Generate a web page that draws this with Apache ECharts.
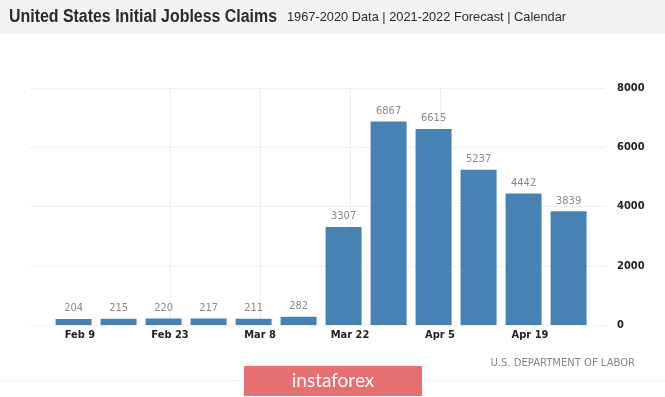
<!DOCTYPE html>
<html>
<head>
<meta charset="utf-8">
<script src="https://cdn.jsdelivr.net/npm/echarts@6/dist/echarts.min.js"></script>
<style>
  html, body { margin: 0; padding: 0; background: #fff; }
  #chart { width: 665px; height: 397px; }
</style>
</head>
<body>
<div id="chart"></div>
<script>
// weekly initial claims (thousands), week ending dates
const weekDates = ['2020-02-08', '2020-02-15', '2020-02-22', '2020-02-29', '2020-03-07', '2020-03-14',
                   '2020-03-21', '2020-03-28', '2020-04-04', '2020-04-11', '2020-04-18', '2020-04-25'];
const claims = [204, 215, 220, 217, 211, 282, 3307, 6867, 6615, 5237, 4442, 3839];
const tickDates = ['2020-02-09', '2020-02-23', '2020-03-08', '2020-03-22', '2020-04-05', '2020-04-19'];
const yTicks = [0, 2000, 4000, 6000, 8000];
const monthNames = ['Jan', 'Feb', 'Mar', 'Apr', 'May', 'Jun', 'Jul', 'Aug', 'Sep', 'Oct', 'Nov', 'Dec'];

const titleText = 'United States Initial Jobless Claims';
const subText = '1967-2020 Data | 2021-2022 Forecast | Calendar';

// x positions as day numbers counted from Jan 1 2020
const DAY = 86400e3;
const t0 = Date.UTC(2020, 0, 1);
const dayNum = d => (new Date(d + 'T00:00:00Z').getTime() - t0) / DAY;
const dayLabel = n => { const d = new Date(t0 + Math.round(n) * DAY); return monthNames[d.getUTCMonth()] + ' ' + d.getUTCDate(); };

// header text in the reference is narrow, squeeze a normal font to the same width
const ctx = document.createElement('canvas').getContext('2d');
function squeeze(text, font, width) {
  ctx.font = font;
  return width / ctx.measureText(text).width;
}
const titleFont = 'bold 18px "Liberation Sans"';
const subFont = '13.5px "Liberation Sans"';

let chart = echarts.init(document.getElementById('chart'));
chart.setOption({
  animation: false,
  backgroundColor: '#fff',
  graphic: [
    { type: 'rect', left: 0, top: 0, shape: { width: 665, height: 34 }, style: { fill: '#f3f3f3' }, z: -1 },
    { type: 'text', x: 9, y: 17, scaleX: squeeze(titleText, titleFont, 268),
      style: { text: titleText, font: titleFont, fill: '#2b2b2b', verticalAlign: 'middle' } },
    { type: 'text', x: 287, y: 17, scaleX: squeeze(subText, subFont, 279),
      style: { text: subText, font: subFont, fill: '#2b2b2b', verticalAlign: 'middle' } },
    { type: 'rect', left: 0, top: 380, shape: { width: 665, height: 1 }, style: { fill: '#f0f0f0' } },
    { type: 'rect', left: 244, top: 366, shape: { width: 178, height: 30 }, style: { fill: '#e66f6f' } },
    { type: 'text', x: 333, y: 381, style: { text: 'instaforex', fill: '#fff', font: '19px Lato',
        align: 'center', verticalAlign: 'middle' } },
    { type: 'text', x: 635, y: 363, style: { text: 'U.S. DEPARTMENT OF LABOR', fill: '#858585',
        font: '10px "DejaVu Sans"', align: 'right', verticalAlign: 'middle' } }
  ],
  grid: { left: 30, right: 59, top: 88, bottom: 72 },
  xAxis: {
    type: 'value',
    min: dayNum('2020-02-09') - 7.78,
    max: dayNum('2020-02-09') + 81.82,
    axisLine: { show: false },
    axisTick: { show: false, customValues: tickDates.map(dayNum) },
    axisLabel: {
      customValues: tickDates.map(dayNum),
      margin: 5,
      color: '#222',
      fontFamily: 'DejaVu Sans Condensed',
      fontWeight: 'bold',
      fontSize: 11,
      formatter: dayLabel
    },
    splitLine: { show: true, showMinLine: false, showMaxLine: false, lineStyle: { color: '#eeeeee' } }
  },
  yAxis: {
    type: 'value',
    position: 'right',
    min: yTicks[0],
    max: yTicks[yTicks.length - 1],
    interval: 2000,
    axisLine: { show: false },
    axisTick: { show: false },
    axisLabel: { margin: 11, color: '#222', fontFamily: 'DejaVu Sans Condensed', fontWeight: 'bold', fontSize: 11,
      formatter: v => String(v) },
    splitLine: { lineStyle: { color: '#eeeeee' } }
  },
  series: [{
    type: 'bar',
    barWidth: 36,
    data: weekDates.map((d, i) => [dayNum(d), claims[i]]),
    itemStyle: { color: '#4682b4' },
    label: {
      show: true,
      position: 'top',
      distance: 5,
      color: '#8a8a8a',
      fontFamily: 'DejaVu Sans Condensed',
      fontSize: 11,
      formatter: p => p.value[1]
    }
  }]
});
</script>
</body>
</html>
